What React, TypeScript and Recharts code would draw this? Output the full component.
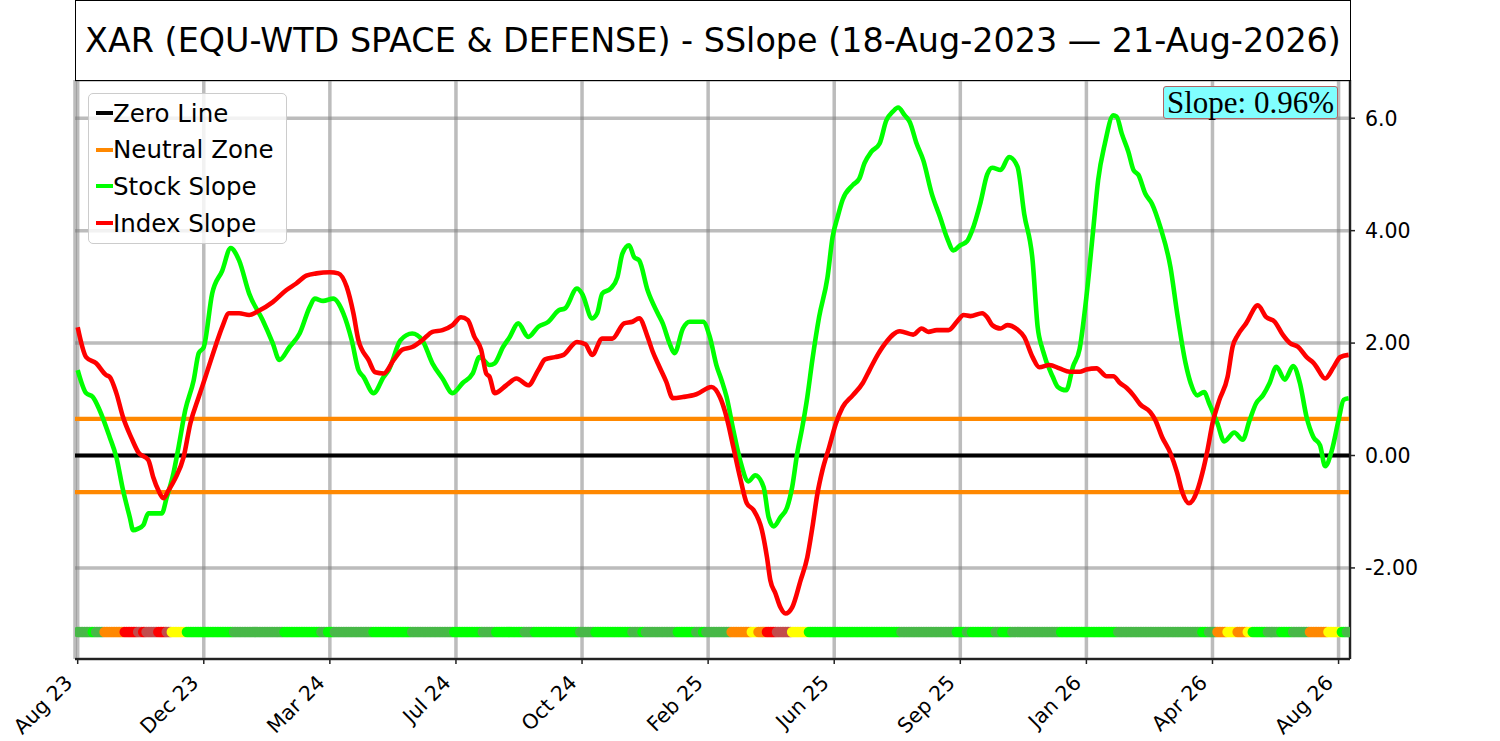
import React from "react";
import {
  ComposedChart,
  Line,
  Scatter,
  XAxis,
  YAxis,
  CartesianGrid,
  Legend,
} from "recharts";

// ---- data ----
const TITLE = "XAR (EQU-WTD SPACE & DEFENSE) - SSlope (18-Aug-2023 \u2014 21-Aug-2026)";
const SLOPE_TEXT = "Slope: 0.96%";
const LAST_INDEX = 756;
const X_TICK_INDEX = [0, 75, 150, 225, 300, 375, 450, 525, 600, 675, 750];
const X_TICK_LABELS = ["Aug 23", "Dec 23", "Mar 24", "Jul 24", "Oct 24", "Feb 25", "Jun 25", "Sep 25", "Jan 26", "Apr 26", "Aug 26"];
const Y_TICKS = [-2, 0, 2, 4, 6];
const NEUTRAL_BAND = 0.65;
const STRIP_LEVEL = -3.14;

const STOCK_SLOPE: [number, number][] = [
  [0, 1.52], [5, 1.11], [9, 1.04], [13, 0.81], [19, 0.33], [23, -0.03], [27, -0.62], [31, -1.1], [33, -1.33], [36, -1.3],
  [39, -1.24], [42, -1.03], [50, -1.03], [53, -0.74], [57, -0.31], [60, 0.15], [64, 0.81], [69, 1.34], [72, 1.82], [75, 1.93],
  [80, 2.88], [86, 3.29], [91, 3.69], [96, 3.47], [102, 2.88], [110, 2.41], [116, 2.0], [120, 1.7], [126, 1.93], [132, 2.17],
  [138, 2.64], [141, 2.79], [146, 2.75], [152, 2.79], [158, 2.53], [163, 2.05], [167, 1.52], [170, 1.4], [176, 1.11], [182, 1.4],
  [185, 1.52], [192, 2.05], [199, 2.17], [205, 2.05], [211, 1.64], [217, 1.37], [223, 1.11], [229, 1.29], [235, 1.46], [239, 1.75],
  [245, 1.61], [248, 1.64], [253, 1.93], [257, 2.11], [262, 2.35], [268, 2.11], [274, 2.29], [280, 2.38], [286, 2.58], [290, 2.62],
  [297, 2.97], [300, 2.88], [306, 2.44], [309, 2.53], [312, 2.88], [317, 2.97], [321, 3.17], [324, 3.59], [328, 3.74], [331, 3.53],
  [334, 3.47], [339, 2.94], [345, 2.53], [348, 2.35], [352, 2.0], [355, 1.82], [360, 2.26], [364, 2.38], [372, 2.38], [376, 2.11],
  [380, 1.6], [383, 1.34], [386, 1.04], [390, 0.45], [394, -0.08], [399, -0.46], [403, -0.35], [408, -0.56], [411, -1.1], [414, -1.26],
  [418, -1.1], [422, -0.92], [425, -0.56], [428, 0.04], [431, 0.5], [434, 1.04], [437, 1.7], [441, 2.46], [446, 3.17], [449, 3.88],
  [452, 4.24], [455, 4.55], [461, 4.81], [465, 4.93], [468, 5.2], [472, 5.4], [477, 5.55], [481, 5.96], [485, 6.12], [488, 6.19],
  [492, 6.05], [495, 5.93], [499, 5.55], [503, 5.25], [508, 4.66], [513, 4.24], [517, 3.88], [521, 3.65], [525, 3.74], [529, 3.81],
  [532, 4.0], [537, 4.5], [541, 5.0], [544, 5.12], [549, 5.08], [554, 5.31], [559, 5.14], [563, 4.3], [568, 3.47], [571, 2.29],
  [574, 1.88], [580, 1.4], [583, 1.22], [588, 1.16], [592, 1.58], [596, 1.9], [600, 2.82], [604, 4.0], [607, 4.9], [611, 5.55],
  [616, 6.05], [618, 6.03], [621, 5.73], [625, 5.4], [628, 5.08], [631, 4.99], [635, 4.66], [639, 4.48], [644, 4.06], [650, 3.35],
  [654, 2.53], [659, 1.64], [662, 1.29], [666, 1.07], [670, 1.13], [673, 0.93], [678, 0.57], [682, 0.25], [688, 0.41], [693, 0.28],
  [697, 0.62], [701, 0.93], [705, 1.07], [709, 1.29], [713, 1.58], [718, 1.35], [723, 1.59], [727, 1.29], [731, 0.68], [735, 0.33],
  [739, 0.18], [742, -0.19], [746, 0.09], [750, 0.63], [753, 0.99], [756, 1.02],
];

const INDEX_SLOPE: [number, number][] = [
  [0, 2.28], [5, 1.75], [11, 1.64], [17, 1.43], [19, 1.4], [23, 1.11], [27, 0.68], [32, 0.31], [36, 0.06], [42, -0.08],
  [45, -0.39], [48, -0.62], [51, -0.76], [54, -0.62], [58, -0.41], [63, -0.03], [67, 0.57], [72, 1.04], [76, 1.4], [82, 1.95],
  [86, 2.29], [90, 2.53], [96, 2.53], [102, 2.5], [108, 2.58], [116, 2.73], [124, 2.94], [130, 3.06], [136, 3.2], [142, 3.24],
  [150, 3.26], [155, 3.24], [160, 3.0], [164, 2.53], [167, 2.05], [173, 1.7], [177, 1.48], [182, 1.46], [188, 1.7], [193, 1.88],
  [199, 1.93], [205, 2.05], [211, 2.2], [217, 2.23], [223, 2.32], [228, 2.46], [232, 2.41], [236, 2.11], [240, 1.88], [243, 1.46],
  [245, 1.4], [248, 1.11], [255, 1.25], [261, 1.37], [268, 1.25], [274, 1.52], [278, 1.71], [284, 1.75], [289, 1.79], [297, 2.02],
  [302, 1.98], [306, 1.79], [312, 2.08], [318, 2.08], [325, 2.35], [330, 2.38], [334, 2.44], [339, 2.11], [342, 1.85], [346, 1.58],
  [350, 1.32], [354, 1.02], [360, 1.04], [368, 1.09], [377, 1.22], [382, 1.04], [386, 0.68], [390, 0.15], [394, -0.39], [398, -0.85],
  [402, -0.97], [407, -1.33], [410, -1.81], [412, -2.22], [415, -2.45], [418, -2.7], [421, -2.81], [425, -2.7], [430, -2.22], [434, -1.81],
  [437, -1.28], [440, -0.68], [443, -0.26], [447, 0.15], [451, 0.57], [455, 0.86], [461, 1.07], [467, 1.29], [471, 1.52], [476, 1.8],
  [481, 2.02], [489, 2.21], [497, 2.15], [502, 2.26], [506, 2.2], [511, 2.23], [518, 2.23], [523, 2.38], [527, 2.5], [531, 2.48],
  [538, 2.53], [541, 2.46], [544, 2.32], [549, 2.26], [553, 2.32], [559, 2.24], [563, 2.11], [568, 1.75], [572, 1.57], [578, 1.61],
  [584, 1.55], [590, 1.49], [596, 1.49], [600, 1.53], [606, 1.55], [612, 1.41], [616, 1.41], [620, 1.29], [624, 1.2], [628, 1.07],
  [632, 0.91], [638, 0.77], [641, 0.63], [645, 0.33], [650, 0.04], [654, -0.31], [657, -0.65], [661, -0.85], [666, -0.62], [669, -0.31],
  [672, 0.09], [675, 0.57], [679, 0.98], [684, 1.4], [687, 1.94], [690, 2.14], [695, 2.35], [702, 2.67], [707, 2.46], [712, 2.38],
  [717, 2.14], [721, 2.0], [726, 1.93], [731, 1.75], [735, 1.65], [737, 1.57], [742, 1.37], [747, 1.57], [751, 1.75], [756, 1.79],
];

// signal strip: [first day index, state]
const STRIP_SEGMENTS: [number, string][] = [
  [0, "g2"], [9, "g1"], [11, "g2"], [16, "or"], [28, "rd"], [36, "ir"], [39, "rd"], [41, "ir"], [48, "rd"], [53, "ir"],
  [56, "ye"], [65, "g1"], [93, "g2"], [123, "g1"], [145, "g2"], [149, "g1"], [153, "g2"], [176, "g1"], [199, "g2"], [224, "g1"],
  [241, "g2"], [249, "g1"], [266, "g2"], [272, "g1"], [299, "g2"], [308, "g1"], [330, "g2"], [336, "g1"], [338, "g2"], [357, "g1"],
  [368, "g2"], [372, "g1"], [374, "g2"], [389, "or"], [401, "ye"], [405, "or"], [410, "rd"], [416, "ir"], [425, "ye"], [435, "g1"],
  [490, "g2"], [523, "g1"], [529, "g2"], [532, "g1"], [546, "g2"], [550, "g1"], [556, "g2"], [585, "g1"], [619, "g2"], [669, "g1"],
  [673, "g2"], [678, "or"], [684, "ye"], [690, "or"], [696, "ye"], [699, "g1"], [708, "g2"], [716, "g1"], [723, "g2"], [733, "or"],
  [744, "ye"], [752, "g1"], [755, "g2"],
];

const STATE_COLORS: Record<string, string> = {
  g1: "#00ff00",
  g2: "#48b848",
  or: "#ff8800",
  rd: "#ff0000",
  ir: "#c24c4c",
  ye: "#ffff00",
};

const LEGEND_ITEMS = [
  { label: "Zero Line", color: "#000000" },
  { label: "Neutral Zone", color: "#ff8800" },
  { label: "Stock Slope", color: "#00ff00" },
  { label: "Index Slope", color: "#ff0000" },
];

// ---- derived tables ----
const X_MIN = -1.6;
const X_MAX = 756.8;
const stockData = STOCK_SLOPE.map(([i, v]) => ({ i, v }));
const indexData = INDEX_SLOPE.map(([i, v]) => ({ i, v }));
const zeroData = [{ i: X_MIN, v: 0 }, { i: X_MAX, v: 0 }];
const upperData = [{ i: X_MIN, v: NEUTRAL_BAND }, { i: X_MAX, v: NEUTRAL_BAND }];
const lowerData = [{ i: X_MIN, v: -NEUTRAL_BAND }, { i: X_MAX, v: -NEUTRAL_BAND }];

const stripData: { i: number; v: number; c: string }[] = [];
for (let d = 0; d <= LAST_INDEX; d++) {
  let state = STRIP_SEGMENTS[0][1];
  for (const [start, s] of STRIP_SEGMENTS) {
    if (d >= start) state = s;
  }
  stripData.push({ i: d, v: STRIP_LEVEL, c: STATE_COLORS[state] });
}

const FONT = "DejaVu Sans";

const XTick = (props: any) => {
  const { x, y, payload } = props;
  const idx = X_TICK_INDEX.indexOf(payload.value);
  const label = idx >= 0 ? X_TICK_LABELS[idx] : "";
  const x0 = x - 4;
  const y0 = y + 18;
  return (
    <text
      x={x0}
      y={y0}
      textAnchor="end"
      fontSize={20.5}
      fontFamily={FONT}
      fill="#000"
      transform={`rotate(-45, ${x0}, ${y0})`}
    >
      {label}
    </text>
  );
};

const LegendBox = () => (
  <div
    style={{
      border: "1.5px solid #cccccc",
      borderRadius: 5,
      background: "rgba(255,255,255,0.8)",
      padding: "1px 9px 2px 7px",
      fontFamily: FONT,
      fontSize: 24.5,
      color: "#000",
      boxSizing: "border-box",
      width: 199,
    }}
  >
    {LEGEND_ITEMS.map((it) => (
      <div key={it.label} style={{ display: "flex", alignItems: "center", height: 36.6, whiteSpace: "nowrap" }}>
        <span style={{ display: "inline-block", width: 17, height: 4, background: it.color, marginRight: 0 }} />
        <span>{it.label}</span>
      </div>
    ))}
  </div>
);

const StripDot = (p: any) => <circle cx={p.cx} cy={p.cy} r={5.3} fill={p.payload.c} />;

export default function App() {
  return (
    <div style={{ position: "absolute", left: 0, top: 0, width: 1500, height: 741, background: "#fff" }}>
      <ComposedChart
        width={1500}
        height={741}
        margin={{ top: 80, right: 0, bottom: 0, left: 75 }}
        style={{ fontFamily: FONT }}
      >
        <CartesianGrid
          yAxisId="r"
          stroke="#7a7a7a"
          strokeOpacity={0.5}
          strokeWidth={3.5}
        />
        <XAxis
          dataKey="i"
          type="number"
          domain={[X_MIN, X_MAX]}
          ticks={X_TICK_INDEX}
          interval={0}
          allowDataOverflow
          height={82}
          tickSize={5}
          tickMargin={2}
          tick={<XTick />}
          axisLine={{ stroke: "#222", strokeWidth: 2 }}
          tickLine={{ stroke: "#222", strokeWidth: 1.5 }}
        />
        <YAxis
          yAxisId="r"
          orientation="right"
          type="number"
          domain={[-3.62, 6.68]}
          ticks={Y_TICKS}
          interval={0}
          allowDataOverflow
          width={150}
          tickSize={5}
          tickMargin={10}
          tickFormatter={(v: number) => (v === 6 ? "6.0" : v.toFixed(2))}
          tick={{ fontSize: 20.5, fill: "#000", fontFamily: FONT }}
          axisLine={{ stroke: "#222", strokeWidth: 2 }}
          tickLine={{ stroke: "#222", strokeWidth: 1.5 }}
        />
        <YAxis
          yAxisId="l"
          orientation="left"
          type="number"
          domain={[-3.62, 6.68]}
          allowDataOverflow
          width={0}
          tick={false}
          tickLine={false}
          axisLine={{ stroke: "#222", strokeWidth: 2 }}
        />
        <Line yAxisId="r" data={zeroData} dataKey="v" stroke="#000000" strokeWidth={4.2} dot={false} isAnimationActive={false} legendType="none" />
        <Line yAxisId="r" data={upperData} dataKey="v" stroke="#ff8800" strokeWidth={4.2} dot={false} isAnimationActive={false} legendType="none" />
        <Line yAxisId="r" data={lowerData} dataKey="v" stroke="#ff8800" strokeWidth={4.2} dot={false} isAnimationActive={false} legendType="none" />
        <Line yAxisId="r" data={stockData} dataKey="v" type="monotone" stroke="#00ff00" strokeWidth={4.6} dot={false} isAnimationActive={false} />
        <Line yAxisId="r" data={indexData} dataKey="v" type="monotone" stroke="#ff0000" strokeWidth={4.6} dot={false} isAnimationActive={false} />
        <Scatter yAxisId="r" data={stripData} dataKey="v" shape={StripDot} isAnimationActive={false} legendType="none" />
        <Legend
          layout="horizontal"
          verticalAlign="middle"
          align="center"
          content={() => <LegendBox />}
          wrapperStyle={{ position: "absolute", left: 88, top: 93, width: 199, height: "auto" }}
        />
      </ComposedChart>
      <div
        style={{
          position: "absolute",
          left: 75,
          top: 0,
          width: 1276,
          height: 81,
          boxSizing: "border-box",
          border: "1.5px solid #000",
          background: "#fff",
          display: "flex",
          alignItems: "center",
          justifyContent: "center",
          fontFamily: FONT,
          fontSize: 33.4,
          color: "#000",
          whiteSpace: "nowrap",
        }}
      >
        {TITLE}
      </div>
      <div
        style={{
          position: "absolute",
          left: 1163,
          top: 86,
          width: 175,
          height: 33,
          boxSizing: "border-box",
          border: "1.5px solid #b06464",
          borderRadius: 3,
          background: "#80ffff",
          display: "flex",
          alignItems: "center",
          justifyContent: "center",
          fontFamily: "Liberation Serif",
          fontSize: 31,
          color: "#000",
          whiteSpace: "nowrap",
          lineHeight: 1,
        }}
      >
        {SLOPE_TEXT}
      </div>
    </div>
  );
}
